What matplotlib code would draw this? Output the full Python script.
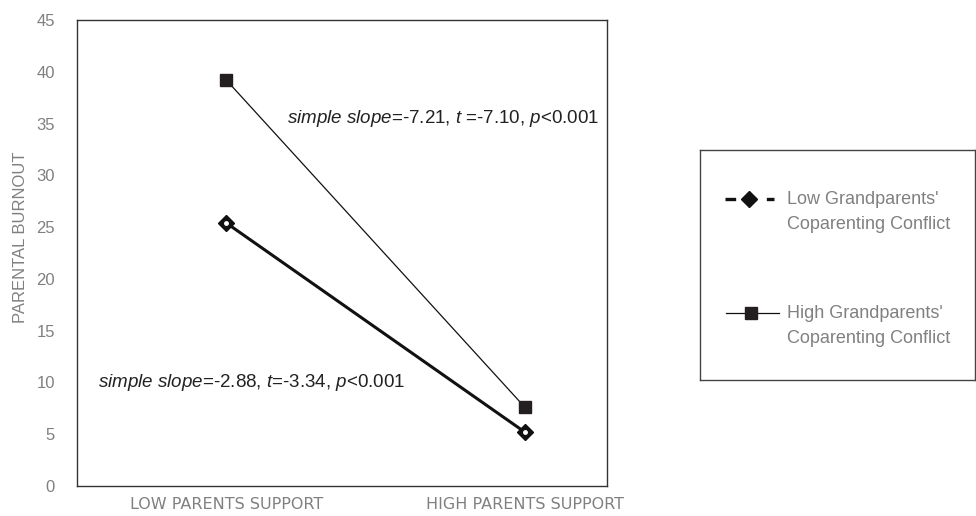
import matplotlib
matplotlib.use("Agg")
import matplotlib.pyplot as plt
from matplotlib.lines import Line2D

categories = ["LOW PARENTS SUPPORT", "HIGH PARENTS SUPPORT"]
low_conflict = [25.4, 5.2]
high_conflict = [39.2, 7.6]
series_labels = ["Low Grandparents'\nCoparenting Conflict", "High Grandparents'\nCoparenting Conflict"]
yticks = [0, 5, 10, 15, 20, 25, 30, 35, 40, 45]
ylabel = "PARENTAL BURNOUT"
note_high = r"$\mathit{simple\ slope}$=-7.21, $\mathit{t}$ =-7.10, $\mathit{p}$<0.001"
note_low = r"$\mathit{simple\ slope}$=-2.88, $\mathit{t}$=-3.34, $\mathit{p}$<0.001"

plt.rcParams['font.family'] = ['Liberation Sans', 'DejaVu Sans']
plt.rcParams['mathtext.fontset'] = 'custom'
plt.rcParams['mathtext.rm'] = 'Liberation Sans'
plt.rcParams['mathtext.it'] = 'Liberation Sans:italic'

gray = '#808080'
fig = plt.figure(figsize=(9.76, 5.16), dpi=100)
ax = fig.add_axes([77/976, 1-486/516, (607-77)/976, (486-20)/516])

x = [0, 1]
ax.plot(x, high_conflict, color='#111111', lw=0.9, marker='s', ms=9,
        mfc='#231f20', mec='#231f20', zorder=3)
ax.plot(x, low_conflict, color='#111111', lw=2.2, marker='D', ms=8.5,
        mfc='#111111', mec='#111111', zorder=3)
ax.plot(x, low_conflict, ls='none', marker='o', ms=2.5, mfc='white', mec='white', zorder=4)

ax.set_xlim(-0.5, 1.275)
ax.set_ylim(0, 45)
ax.set_yticks(yticks)
ax.set_xticks(x)
ax.set_xticklabels(categories, fontsize=11.5, color=gray, family='DejaVu Sans')
ax.tick_params(axis='y', length=0, labelsize=12, colors=gray, pad=16)
ax.tick_params(axis='x', length=0, colors=gray, pad=8)
ax.set_ylabel(ylabel, fontsize=12, color=gray)
ax.yaxis.set_label_coords(-0.0925, 0.534)
for s in ax.spines.values():
    s.set_color('#333333')
    s.set_linewidth(1.0)

ax.text(0.202, 35.5, note_high, fontsize=13.5, color='#222222', va='center', ha='left')
ax.text(-0.43, 10.0, note_low, fontsize=13.5, color='#222222', va='center', ha='left')

# legend box (drawn in its own axes, coordinates in box pixels)
lax = fig.add_axes([700/976, 1-380/516, (975-700)/976, (380-150)/516])
lax.set_xlim(0, 275)
lax.set_ylim(230, 0)
lax.set_xticks([]); lax.set_yticks([])
for s in lax.spines.values():
    s.set_color('#444444')
    s.set_linewidth(1.0)
lax.add_line(Line2D([25, 74], [49, 49], color='#111111', lw=2.4, ls=(0, (3.2, 3.0))))
lax.add_line(Line2D([49], [49], marker='D', ms=8, mfc='#111111', mec='#111111', ls='none'))
lax.add_line(Line2D([26, 79], [163, 163], color='#111111', lw=0.9))
lax.add_line(Line2D([51], [163], marker='s', ms=8, mfc='#231f20', mec='#231f20', ls='none'))
lax.text(87, 49 - 8, series_labels[0], fontsize=13, color=gray, va='top', ha='left',
         linespacing=1.65)
lax.text(87, 163 - 8, series_labels[1], fontsize=13, color=gray, va='top', ha='left',
         linespacing=1.65)

fig.savefig("out.png", dpi=100)
